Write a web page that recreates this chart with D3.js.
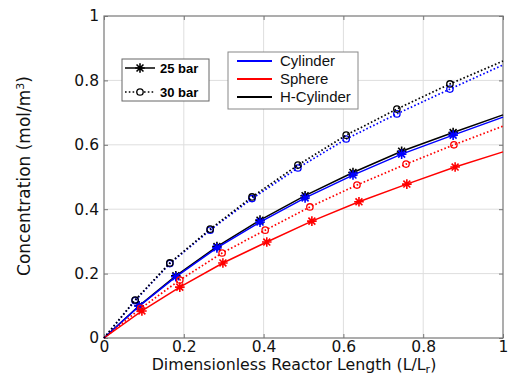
<!DOCTYPE html>
<html><head><meta charset="utf-8">
<script src="https://cdn.jsdelivr.net/npm/d3@7"></script>
<style>body{margin:0;background:#fff}svg{display:block}</style>
</head><body>
<svg id="c" width="508" height="374"></svg>
<script>
// ---- data ----
const xTicks = [0, 0.2, 0.4, 0.6, 0.8, 1];
const xTickLabels = ["0", "0.2", "0.4", "0.6", "0.8", "1"];
const yTicks = [0, 0.2, 0.4, 0.6, 0.8, 1];
const yTickLabels = ["0", "0.2", "0.4", "0.6", "0.8", "1"];

const hcyl25X = [0, 0.088, 0.180, 0.283, 0.391, 0.504, 0.624, 0.746, 0.875, 1];
const hcyl25Y = [0, 0.100, 0.193, 0.284, 0.366, 0.442, 0.514, 0.580, 0.638, 0.693];
const cyl25X  = [0, 0.088, 0.180, 0.283, 0.391, 0.504, 0.624, 0.746, 0.875, 1];
const cyl25Y  = [0, 0.099, 0.190, 0.280, 0.360, 0.435, 0.506, 0.571, 0.630, 0.686];
const sph25X  = [0, 0.095, 0.190, 0.298, 0.408, 0.521, 0.639, 0.759, 0.880, 1];
const sph25Y  = [0, 0.084, 0.158, 0.233, 0.298, 0.363, 0.423, 0.478, 0.531, 0.578];
const sph30X  = [0, 0.092, 0.190, 0.296, 0.404, 0.516, 0.634, 0.757, 0.877, 1];
const sph30Y  = [0, 0.092, 0.180, 0.264, 0.335, 0.407, 0.475, 0.540, 0.600, 0.658];
const cyl30X  = [0, 0.078, 0.165, 0.266, 0.371, 0.486, 0.607, 0.734, 0.867, 1];
const cyl30Y  = [0, 0.116, 0.231, 0.335, 0.433, 0.528, 0.618, 0.696, 0.773, 0.848];
const hcyl30X = [0, 0.078, 0.165, 0.266, 0.371, 0.486, 0.607, 0.734, 0.867, 1];
const hcyl30Y = [0, 0.118, 0.233, 0.338, 0.438, 0.537, 0.630, 0.711, 0.789, 0.860];

const shapeNames = ["Cylinder", "Sphere", "H-Cylinder"];
const shapeColors = ["#0000ff", "#ff0000", "#000000"];
const pressureNames = ["25 bar", "30 bar"];

// ---- layout ----
const L = 104, R = 503, T = 16, B = 338;
const svg = d3.select("#c");
const x = d3.scaleLinear().domain([0, 1]).range([L, R]);
const y = d3.scaleLinear().domain([0, 1]).range([B, T]);
const font = "'DejaVu Sans', sans-serif";

// grid
const g = svg.append("g");
g.selectAll(".gx").data(xTicks.slice(1, -1)).join("line")
  .attr("x1", d => x(d)).attr("x2", d => x(d)).attr("y1", T).attr("y2", B)
  .attr("stroke", "#dedede").attr("stroke-width", 1);
g.selectAll(".gy").data(yTicks.slice(1, -1)).join("line")
  .attr("y1", d => y(d)).attr("y2", d => y(d)).attr("x1", L).attr("x2", R)
  .attr("stroke", "#dedede").attr("stroke-width", 1);

// axes with inward ticks
const axB = d3.axisBottom(x).tickValues(xTicks).tickSize(-4).tickFormat((d, i) => xTickLabels[i]).tickPadding(3);
const axL = d3.axisLeft(y).tickValues(yTicks).tickSize(-4).tickFormat((d, i) => yTickLabels[i]).tickPadding(5);
const axT = d3.axisTop(x).tickValues(xTicks).tickSize(-4).tickFormat("");
const axR = d3.axisRight(y).tickValues(yTicks).tickSize(-4).tickFormat("");
function style(sel) {
  sel.select(".domain").remove();
  sel.selectAll(".tick line").attr("stroke", "#777");
  sel.selectAll("text").attr("fill", "#111").style("font-family", font).style("font-size", "15.5px");
}
svg.append("g").attr("transform", `translate(0,${B})`).call(axB).call(style);
svg.append("g").attr("transform", `translate(${L},0)`).call(axL).call(style);
svg.append("g").attr("transform", `translate(0,${T})`).call(axT).call(style);
svg.append("g").attr("transform", `translate(${R},0)`).call(axR).call(style);

// plot box
svg.append("rect").attr("x", L).attr("y", T).attr("width", R - L).attr("height", B - T)
  .attr("fill", "none").attr("stroke", "#777").attr("stroke-width", 1.2);

// markers
function starPath(s) {
  const d = s * 0.72;
  return `M${-s},0L${s},0M0,${-s}L0,${s}M${-d},${-d}L${d},${d}M${-d},${d}L${d},${-d}`;
}
function drawSeries(xs, ys, color, dotted, marker) {
  const pts = xs.map((v, i) => [v, ys[i]]);
  const line = d3.line().x(d => x(d[0])).y(d => y(d[1]));
  const gg = svg.append("g");
  gg.append("path").attr("d", line(pts)).attr("fill", "none").attr("stroke", color)
    .attr("stroke-width", dotted ? 1.7 : 1.5)
    .attr("stroke-dasharray", dotted ? "1.6,2.2" : null);
  const mp = pts.slice(1, -1);
  if (marker === "star") {
    gg.selectAll("path.m").data(mp).join("path").attr("class", "m")
      .attr("transform", d => `translate(${x(d[0])},${y(d[1])})`)
      .attr("d", starPath(4.8)).attr("stroke", color).attr("stroke-width", 1.6).attr("fill", "none");
  } else {
    gg.selectAll("circle").data(mp).join("circle")
      .attr("cx", d => x(d[0])).attr("cy", d => y(d[1])).attr("r", 3.2)
      .attr("stroke", color).attr("stroke-width", 1.3).attr("fill", "none");
  }
}
drawSeries(hcyl25X, hcyl25Y, shapeColors[2], false, "star");
drawSeries(cyl25X, cyl25Y, shapeColors[0], false, "star");
drawSeries(sph25X, sph25Y, shapeColors[1], false, "star");
drawSeries(sph30X, sph30Y, shapeColors[1], true, "circle");
drawSeries(cyl30X, cyl30Y, shapeColors[0], true, "circle");
drawSeries(hcyl30X, hcyl30Y, shapeColors[2], true, "circle");

// axis titles
svg.append("text").attr("x", 294).attr("y", 369.5).attr("text-anchor", "middle")
  .style("font-family", font).style("font-size", "15.8px").attr("fill", "#111")
  .html('Dimensionless Reactor Length (L/L<tspan dy="3" font-size="11">r</tspan><tspan dy="-3">)</tspan>');
svg.append("text").attr("transform", "translate(30,176) rotate(-90)").attr("text-anchor", "middle")
  .style("font-family", font).style("font-size", "17px").attr("fill", "#111")
  .html('Concentration (mol/m<tspan dy="-6" font-size="11">3</tspan><tspan dy="6">)</tspan>');

// legend 1 (pressure)
const lg1 = svg.append("g");
lg1.append("rect").attr("x", 122).attr("y", 59).attr("width", 87).attr("height", 42)
  .attr("fill", "#fff").attr("stroke", "#666").attr("stroke-width", 1);
pressureNames.forEach((nm, i) => {
  const yy = 68 + i * 24;
  lg1.append("line").attr("x1", 125).attr("x2", 155).attr("y1", yy).attr("y2", yy)
    .attr("stroke", "#000").attr("stroke-width", i ? 1.6 : 1.5).attr("stroke-dasharray", i ? "1.6,2.2" : null);
  if (i === 0) {
    lg1.append("path").attr("transform", `translate(140,${yy})`).attr("d", starPath(4.8))
      .attr("stroke", "#000").attr("stroke-width", 1.6).attr("fill", "none");
  } else {
    lg1.append("circle").attr("cx", 140).attr("cy", yy).attr("r", 3.2)
      .attr("stroke", "#000").attr("stroke-width", 1.3).attr("fill", "#fff");
  }
  lg1.append("text").attr("x", 160).attr("y", yy + 4.5)
    .style("font-family", "'Liberation Sans', Arial, sans-serif").style("font-size", "13px")
    .style("font-weight", "bold").attr("fill", "#000").text(nm);
});

// legend 2 (shape)
const lg2 = svg.append("g");
lg2.append("rect").attr("x", 228).attr("y", 52).attr("width", 130).attr("height", 57)
  .attr("fill", "#fff").attr("stroke", "#888").attr("stroke-width", 1);
shapeNames.forEach((nm, i) => {
  const yy = 61 + i * 18;
  lg2.append("line").attr("x1", 237).attr("x2", 272).attr("y1", yy).attr("y2", yy)
    .attr("stroke", shapeColors[i]).attr("stroke-width", 2);
  lg2.append("text").attr("x", 280).attr("y", yy + 5)
    .style("font-family", "'Liberation Sans', Arial, sans-serif").style("font-size", "15px")
    .attr("fill", "#111").text(nm);
});
</script>
</body></html>
